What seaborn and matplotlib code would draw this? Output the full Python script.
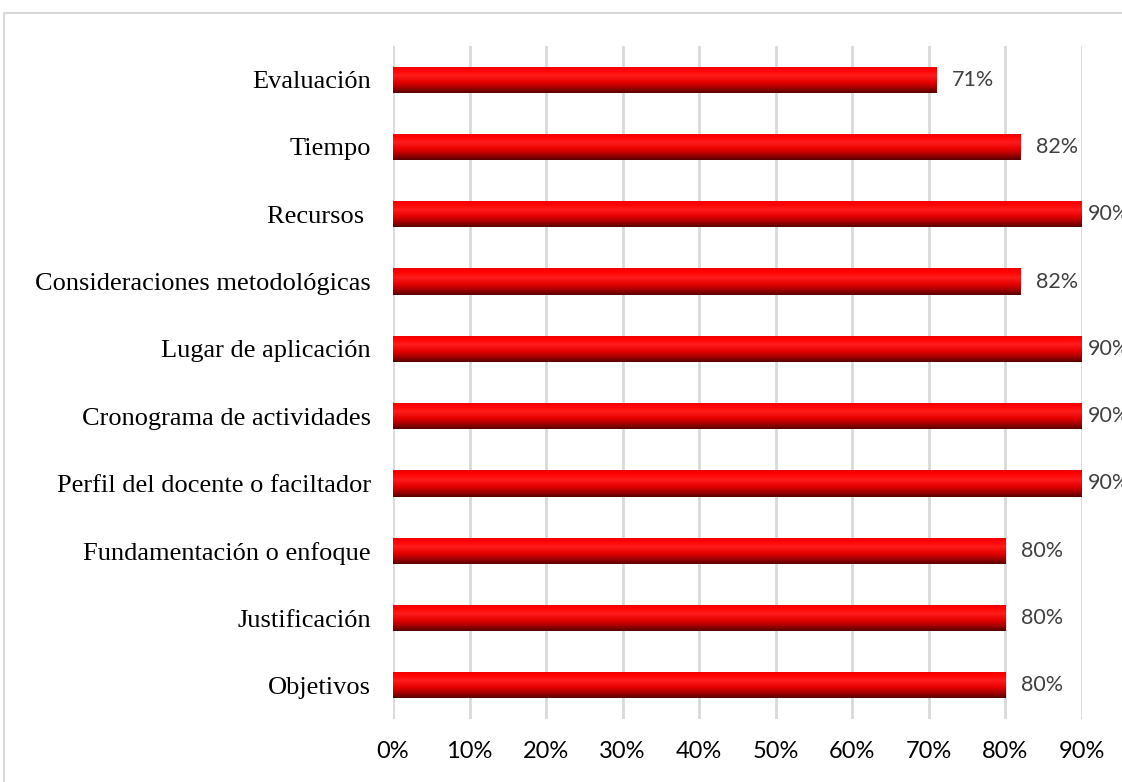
import numpy as np
import pandas as pd
import matplotlib
matplotlib.use("Agg")
import matplotlib.pyplot as plt
from matplotlib.colors import LinearSegmentedColormap
from matplotlib.patches import Rectangle
import seaborn as sns

# --- Datos ---
categorias = ["Evaluación", "Tiempo", "Recursos ", "Consideraciones metodológicas",
              "Lugar de aplicación", "Cronograma de actividades",
              "Perfil del docente o faciltador", "Fundamentación o enfoque",
              "Justificación", "Objetivos"]
valores = [71, 82, 90, 82, 90, 90, 90, 80, 80, 80]
ticks_x = [0, 10, 20, 30, 40, 50, 60, 70, 80, 90]

df = pd.DataFrame({"categoria": categorias, "valor": valores})

sns.set_theme(style="white")
plt.rcParams["font.family"] = ["Lato", "DejaVu Sans"]

fig = plt.figure(figsize=(11.22, 7.82), dpi=100)
ax = fig.add_axes([393 / 1122, 1 - 719 / 782, 689 / 1122, 673 / 782])

sns.barplot(data=df, x="valor", y="categoria", orient="h", color="#ff0000",
            width=0.39, ax=ax, linewidth=0, saturation=1)

# degradado vertical en cada barra
cmap = LinearSegmentedColormap.from_list("rojo", [
    (0.0, "#e80000"), (0.12, "#ff0000"), (0.35, "#ff1c1c"),
    (0.6, "#e60000"), (0.8, "#a80000"), (1.0, "#580000")])
grad = np.linspace(0, 1, 64).reshape(-1, 1)
for p in list(ax.patches):
    x0, y0, w, h = p.get_x(), p.get_y(), p.get_width(), p.get_height()
    im = ax.imshow(grad, cmap=cmap, aspect="auto", origin="upper",
                   extent=(x0, x0 + w, y0 + h, y0), zorder=3)
    im.set_clip_path(p)

ax.set_xlim(0, 90)
ax.set_ylim(9.5, -0.5)
ax.set_xticks(ticks_x)
ax.set_xticklabels([f"{t}%" for t in ticks_x])
ax.set_xlabel("")
ax.set_ylabel("")
ax.grid(axis="x", color="#d9d9d9", linewidth=2)
ax.set_axisbelow(True)
for s in ax.spines.values():
    s.set_visible(False)
ax.tick_params(axis="x", length=0, pad=16, labelsize=17, labelcolor="black")
ax.tick_params(axis="y", length=0, pad=16, labelsize=19, labelcolor="black")
for lbl in ax.get_yticklabels():
    lbl.set_fontfamily("Liberation Serif")

# etiquetas de datos (como Excel, se acercan a la barra si no caben)
for i, v in enumerate(valores):
    ax.text(min(v + 2, 90.8), i, f"{v}%", va="center", ha="left", fontsize=15.5,
            color="#404040", clip_on=False)

# borde del area del grafico
fig.patches.append(Rectangle((4 / 1122, -0.1), 1.2, 1 - 13 / 782 + 0.1,
                             transform=fig.transFigure, fill=False,
                             edgecolor="#d9d9d9", linewidth=1.5))

fig.savefig("out.png", dpi=100)
